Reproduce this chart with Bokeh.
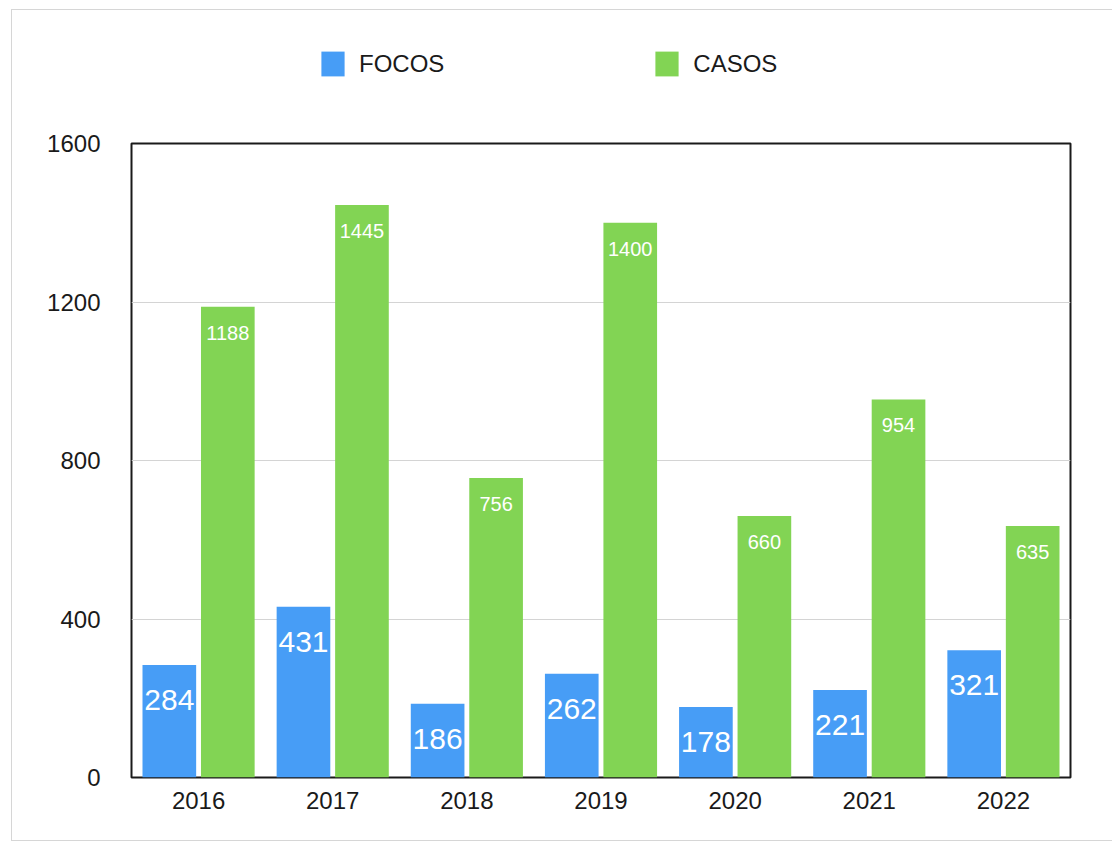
from bokeh.plotting import figure
from bokeh.layouts import column
from bokeh.models import ColumnDataSource, FixedTicker, Legend, LegendItem, Range1d
from bokeh.transform import dodge
from bokeh.core.properties import value
from bokeh.embed import file_html
from bokeh.resources import INLINE

years = ["2016", "2017", "2018", "2019", "2020", "2021", "2022"]
focos = [284, 431, 186, 262, 178, 221, 321]
casos = [1188, 1445, 756, 1400, 660, 954, 635]
series_names = ["FOCOS", "CASOS"]
y_ticks = [0, 400, 800, 1200, 1600]

BLUE = "#479df6"
GREEN = "#82d454"
FONT = "Liberation Sans"

src = ColumnDataSource(dict(
    years=years, focos=focos, casos=casos,
    focos_txt=[str(v) for v in focos],
    casos_txt=[str(v) for v in casos],
))

# ---- legend strip (top); its zero-width bars draw nothing, only the legend shows ----
pl = figure(width=1100, height=100, x_range=years, y_range=Range1d(5000, 6000),
            x_axis_location=None, y_axis_location=None, min_border=0,
            output_backend="svg", toolbar_location=None)
pl.outline_line_color = None
pl.grid.grid_line_color = None
d1 = pl.vbar(x="years", top="focos", width=0, source=src, fill_color=BLUE, line_color=None)
d2 = pl.vbar(x="years", top="casos", width=0, source=src, fill_color=GREEN, line_color=None)
legend = Legend(items=[LegendItem(label=series_names[0], renderers=[d1]),
                       LegendItem(label=series_names[1], renderers=[d2])],
                orientation="horizontal", location=(187, 31),
                glyph_width=29, glyph_height=31, label_standoff=12, spacing=208,
                padding=0, margin=0, border_line_color=None, background_fill_alpha=0,
                label_text_font=FONT, label_text_font_size="24px",
                label_text_color="#1a1a1a")
pl.add_layout(legend)

# ---- main chart ----
p = figure(x_range=years, y_range=(0, 1600),
           frame_width=939, frame_height=634,
           min_border_left=119, min_border_top=33,
           min_border_bottom=63, min_border_right=42,
           output_backend="svg", toolbar_location=None)

p.vbar(x=dodge("years", -0.218, range=p.x_range), top="focos", width=0.4,
       source=src, fill_color=BLUE, line_color=None)
p.vbar(x=dodge("years", 0.218, range=p.x_range), top="casos", width=0.4,
       source=src, fill_color=GREEN, line_color=None)

p.text(x=dodge("years", -0.218, range=p.x_range), y="focos", text="focos_txt",
       source=src, text_color="white", text_font=value(FONT), text_font_size="30px",
       text_align="center", text_baseline="alphabetic", y_offset=35)
p.text(x=dodge("years", 0.218, range=p.x_range), y="casos", text="casos_txt",
       source=src, text_color="white", text_font=value(FONT), text_font_size="20px",
       text_align="center", text_baseline="alphabetic", y_offset=26)

p.outline_line_color = "#1a1a1a"
p.outline_line_width = 2
p.xgrid.grid_line_color = None
p.ygrid.grid_line_color = "#d4d4d4"
p.ygrid.grid_line_width = 1
p.yaxis.ticker = FixedTicker(ticks=y_ticks)

for ax in (p.xaxis, p.yaxis):
    ax.axis_line_color = None
    ax.major_tick_line_color = None
    ax.minor_tick_line_color = None
    ax.major_tick_out = 0
    ax.major_tick_in = 0
    ax.major_label_text_font = FONT
    ax.major_label_text_font_size = "24px"
    ax.major_label_text_color = "#1a1a1a"
p.yaxis.major_label_standoff = 31
p.xaxis.major_label_standoff = 14

layout = column(pl, p, spacing=0)
layout.styles = {"border-top": "1px solid #d6d6d6", "border-left": "1px solid #d6d6d6",
                 "border-bottom": "1px solid #d6d6d6", "margin-left": "11px", "margin-top": "9px"}

open("out.html", "w").write(file_html(layout, INLINE))
